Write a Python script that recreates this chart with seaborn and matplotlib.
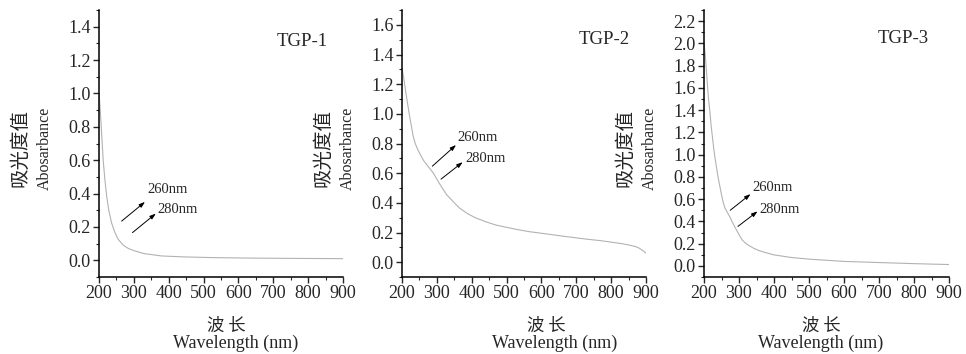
import numpy as np
import pandas as pd
import matplotlib
matplotlib.use("Agg")
import matplotlib.pyplot as plt
import seaborn as sns
from matplotlib.ticker import MultipleLocator

# Kurva serapan UV-Vis untuk tiga sampel
wl_1 = [200, 203, 207, 212, 217, 222, 228, 236, 245, 255, 270, 285, 303, 330, 380, 450, 533, 650, 800, 900]
abs_1 = [1.0, 0.92, 0.78, 0.60, 0.48, 0.385, 0.30, 0.225, 0.17, 0.126, 0.09, 0.07, 0.056, 0.04, 0.026,
         0.02, 0.016, 0.013, 0.011, 0.01]

wl_2 = [200, 205, 210, 220, 232, 238, 245, 256, 262, 270, 280, 290, 300, 310, 328, 340, 350, 365, 386,
        410, 443, 470, 500, 530, 567, 600, 663, 730, 770, 800, 830, 854, 870, 880, 890, 900]
abs_2 = [1.31, 1.24, 1.16, 1.01, 0.85, 0.80, 0.76, 0.71, 0.685, 0.66, 0.63, 0.60, 0.56, 0.52, 0.455,
         0.425, 0.40, 0.365, 0.33, 0.30, 0.27, 0.25, 0.235, 0.22, 0.205, 0.195, 0.175, 0.155, 0.145,
         0.135, 0.125, 0.114, 0.105, 0.095, 0.08, 0.06]

wl_3 = [200, 203, 207, 210, 213, 217, 220, 224, 228, 231, 235, 240, 245, 250, 255, 260, 265, 274, 280,
        288, 295, 303, 310, 320, 330, 341, 355, 370, 398, 450, 503, 600, 700, 800, 900]
abs_3 = [2.0, 1.92, 1.75, 1.62, 1.5, 1.38, 1.27, 1.16, 1.05, 0.98, 0.90, 0.80, 0.72, 0.64, 0.57, 0.52,
         0.49, 0.44, 0.40, 0.35, 0.31, 0.265, 0.23, 0.20, 0.18, 0.16, 0.14, 0.125, 0.10, 0.075, 0.06,
         0.04, 0.03, 0.02, 0.012]

sampel = ["TGP-1", "TGP-2", "TGP-3"]
y_max_tick = [1.4, 1.6, 2.2]
y_lim = [(-0.1, 1.5), (-0.1, 1.7), (-0.1, 2.3)]
x_ticks = [200, 300, 400, 500, 600, 700, 800, 900]

# posisi label sampel (nm, absorbansi)
label_pos = [(782, 1.31), (779, 1.50), (769, 2.04)]

# panah 260nm / 280nm: (ekor x, ekor y, ujung x, ujung y, teks x, teks y)
panah_260 = [(265, 0.235, 332, 0.35, 338, 0.425),
             (287, 0.647, 355, 0.79, 360, 0.84),
             (275, 0.50, 333, 0.645, 339, 0.705)]
panah_280 = [(296, 0.166, 363, 0.28, 368, 0.305),
             (312, 0.56, 374, 0.674, 382, 0.70),
             (297, 0.355, 353, 0.49, 357, 0.505)]

data_list = [pd.DataFrame({"wl": wl_1, "abs": abs_1}),
             pd.DataFrame({"wl": wl_2, "abs": abs_2}),
             pd.DataFrame({"wl": wl_3, "abs": abs_3})]

sns.set_style("ticks")
plt.rcParams['font.family'] = ['Liberation Serif', 'Noto Sans CJK SC']
serif = ['Liberation Serif', 'DejaVu Serif']
cjk = ['Noto Sans CJK SC', 'DejaVu Sans']

fig = plt.figure(figsize=(9.66, 3.54), dpi=100)

# posisi sumbu dalam piksel: (kiri, lebar)
posisi = [(99, 244), (402, 244), (704, 245)]
xlab_pos = [(0.52, 0.56), (0.59, 0.625), (0.48, 0.478)]

for i, df in enumerate(data_list):
    kiri, lebar = posisi[i]
    ax = fig.add_axes([kiri / 966, 77 / 354, lebar / 966, 267 / 354])
    sns.lineplot(data=df, x="wl", y="abs", ax=ax, color="#b2b2b2", linewidth=0.8)

    ax.set_xlim(200, 900)
    ax.set_ylim(*y_lim[i])
    ax.set_xticks(x_ticks)
    ax.set_yticks(np.round(np.arange(0, y_max_tick[i] + 0.01, 0.2), 1))
    ax.xaxis.set_minor_locator(MultipleLocator(50))
    ax.yaxis.set_minor_locator(MultipleLocator(0.1))
    ax.tick_params(which='major', direction='out', length=4, width=1, labelsize=13, pad=2)
    ax.tick_params(which='minor', direction='out', length=2.5, width=0.8)
    for lbl in ax.get_xticklabels() + ax.get_yticklabels():
        lbl.set_family(serif)
    sns.despine(ax=ax)
    for sp in ['left', 'bottom']:
        ax.spines[sp].set_linewidth(1.1)
        ax.spines[sp].set_color('black')

    ax.set_xlabel("")
    ax.set_ylabel("")

    # label sumbu Y dua baris
    ax.text(-79 / lebar, 0.483, "吸光度值", rotation=90, transform=ax.transAxes,
            ha='center', va='center', fontsize=14, family=cjk)
    ax.text(-54 / lebar, 0.483, "Abosarbance", rotation=90, transform=ax.transAxes,
            ha='center', va='center', fontsize=11.5, family=serif)

    # label sumbu X dua baris
    ax.text(xlab_pos[i][0], -0.184, "波 长", transform=ax.transAxes,
            ha='center', va='center', fontsize=12.5, family=cjk)
    ax.text(xlab_pos[i][1], -0.247, "Wavelength (nm)", transform=ax.transAxes,
            ha='center', va='center', fontsize=13, family=serif)

    ax.text(label_pos[i][0], label_pos[i][1], sampel[i], ha='center', va='center',
            fontsize=13.5, family=serif)

    for arr, teks in [(panah_260[i], "260nm"), (panah_280[i], "280nm")]:
        x0, y0, x1, y1, tx, ty = arr
        ax.annotate("", xy=(x1, y1), xytext=(x0, y0),
                    arrowprops=dict(arrowstyle='-|>,head_length=0.35,head_width=0.12',
                                    color='black', lw=0.7, shrinkA=0, shrinkB=0))
        ax.text(tx, ty, teks, ha='left', va='center', fontsize=10.5, family=serif)

plt.savefig("out.png", dpi=100)
